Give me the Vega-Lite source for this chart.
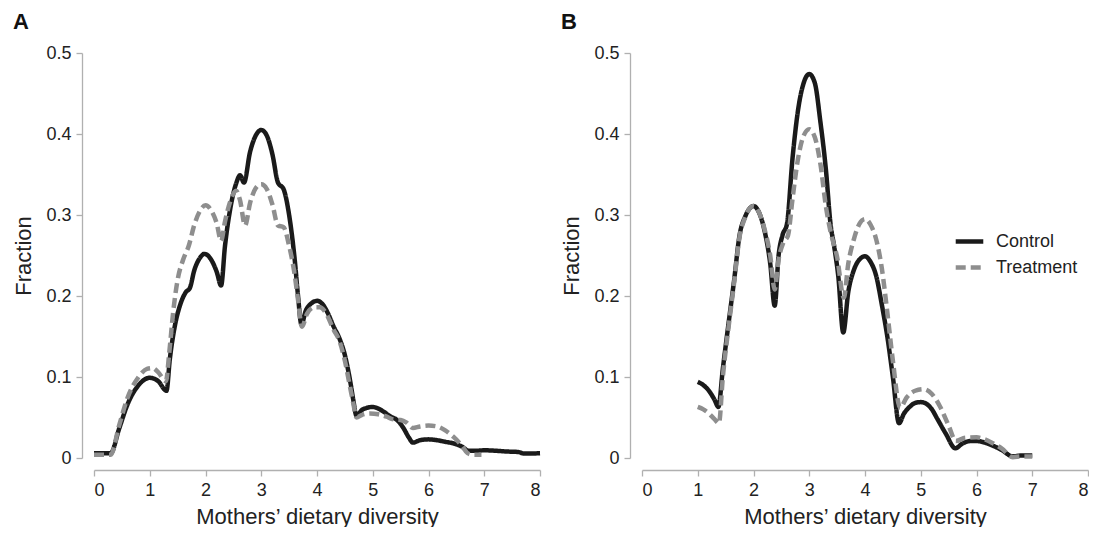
{
  "$schema": "https://vega.github.io/schema/vega-lite/v6.json",
  "padding": {"left": 12, "top": 11, "right": 0, "bottom": 0},
  "background": "white",
  "config": {
    "font": "Liberation Sans",
    "view": {"stroke": null},
    "axis": {
      "grid": false,
      "domainColor": "#b0b0b0",
      "domainWidth": 1.3,
      "tickColor": "#b0b0b0",
      "tickWidth": 1.3,
      "tickSize": 6,
      "labelColor": "#222222",
      "labelFontSize": 18,
      "labelFont": "Liberation Sans",
      "titleFont": "Liberation Sans",
      "titleFontSize": 22,
      "titleFontWeight": "normal",
      "titleColor": "#222222",
      "offset": 12
    },
    "legend": {
      "labelFont": "Liberation Sans",
      "labelFontSize": 18,
      "labelColor": "#222222",
      "padding": 0
    },
    "title": {"font": "Liberation Sans", "fontSize": 22, "fontWeight": "bold", "color": "#111111", "anchor": "start", "frame": "bounds"}
  },
  "data": {
    "values": [
      {"panel":"A","group":"Control","diversity":0,"fraction":0.006},
      {"panel":"A","group":"Control","diversity":0.3,"fraction":0.006},
      {"panel":"A","group":"Control","diversity":0.45,"fraction":0.036},
      {"panel":"A","group":"Control","diversity":0.6,"fraction":0.066},
      {"panel":"A","group":"Control","diversity":0.8,"fraction":0.09},
      {"panel":"A","group":"Control","diversity":1.0,"fraction":0.099},
      {"panel":"A","group":"Control","diversity":1.15,"fraction":0.095},
      {"panel":"A","group":"Control","diversity":1.3,"fraction":0.083},
      {"panel":"A","group":"Control","diversity":1.36,"fraction":0.122},
      {"panel":"A","group":"Control","diversity":1.45,"fraction":0.163},
      {"panel":"A","group":"Control","diversity":1.55,"fraction":0.19},
      {"panel":"A","group":"Control","diversity":1.65,"fraction":0.205},
      {"panel":"A","group":"Control","diversity":1.72,"fraction":0.21},
      {"panel":"A","group":"Control","diversity":1.8,"fraction":0.232},
      {"panel":"A","group":"Control","diversity":1.9,"fraction":0.247},
      {"panel":"A","group":"Control","diversity":1.98,"fraction":0.252},
      {"panel":"A","group":"Control","diversity":2.1,"fraction":0.245},
      {"panel":"A","group":"Control","diversity":2.2,"fraction":0.23},
      {"panel":"A","group":"Control","diversity":2.28,"fraction":0.213},
      {"panel":"A","group":"Control","diversity":2.35,"fraction":0.262},
      {"panel":"A","group":"Control","diversity":2.45,"fraction":0.31},
      {"panel":"A","group":"Control","diversity":2.55,"fraction":0.339},
      {"panel":"A","group":"Control","diversity":2.62,"fraction":0.349},
      {"panel":"A","group":"Control","diversity":2.69,"fraction":0.34},
      {"panel":"A","group":"Control","diversity":2.8,"fraction":0.378},
      {"panel":"A","group":"Control","diversity":2.9,"fraction":0.398},
      {"panel":"A","group":"Control","diversity":3.0,"fraction":0.405},
      {"panel":"A","group":"Control","diversity":3.1,"fraction":0.398},
      {"panel":"A","group":"Control","diversity":3.2,"fraction":0.375},
      {"panel":"A","group":"Control","diversity":3.3,"fraction":0.34},
      {"panel":"A","group":"Control","diversity":3.4,"fraction":0.332},
      {"panel":"A","group":"Control","diversity":3.5,"fraction":0.3},
      {"panel":"A","group":"Control","diversity":3.6,"fraction":0.245},
      {"panel":"A","group":"Control","diversity":3.66,"fraction":0.2},
      {"panel":"A","group":"Control","diversity":3.72,"fraction":0.165},
      {"panel":"A","group":"Control","diversity":3.8,"fraction":0.182},
      {"panel":"A","group":"Control","diversity":3.9,"fraction":0.191},
      {"panel":"A","group":"Control","diversity":4.0,"fraction":0.194},
      {"panel":"A","group":"Control","diversity":4.1,"fraction":0.19},
      {"panel":"A","group":"Control","diversity":4.2,"fraction":0.178},
      {"panel":"A","group":"Control","diversity":4.3,"fraction":0.162},
      {"panel":"A","group":"Control","diversity":4.4,"fraction":0.148},
      {"panel":"A","group":"Control","diversity":4.5,"fraction":0.127},
      {"panel":"A","group":"Control","diversity":4.6,"fraction":0.093},
      {"panel":"A","group":"Control","diversity":4.65,"fraction":0.072},
      {"panel":"A","group":"Control","diversity":4.71,"fraction":0.052},
      {"panel":"A","group":"Control","diversity":4.8,"fraction":0.059},
      {"panel":"A","group":"Control","diversity":4.9,"fraction":0.062},
      {"panel":"A","group":"Control","diversity":5.0,"fraction":0.063},
      {"panel":"A","group":"Control","diversity":5.1,"fraction":0.061},
      {"panel":"A","group":"Control","diversity":5.2,"fraction":0.057},
      {"panel":"A","group":"Control","diversity":5.3,"fraction":0.052},
      {"panel":"A","group":"Control","diversity":5.45,"fraction":0.046},
      {"panel":"A","group":"Control","diversity":5.55,"fraction":0.037},
      {"panel":"A","group":"Control","diversity":5.65,"fraction":0.025},
      {"panel":"A","group":"Control","diversity":5.72,"fraction":0.019},
      {"panel":"A","group":"Control","diversity":5.85,"fraction":0.022},
      {"panel":"A","group":"Control","diversity":6.0,"fraction":0.023},
      {"panel":"A","group":"Control","diversity":6.15,"fraction":0.022},
      {"panel":"A","group":"Control","diversity":6.3,"fraction":0.02},
      {"panel":"A","group":"Control","diversity":6.45,"fraction":0.018},
      {"panel":"A","group":"Control","diversity":6.6,"fraction":0.014},
      {"panel":"A","group":"Control","diversity":6.72,"fraction":0.009},
      {"panel":"A","group":"Control","diversity":6.85,"fraction":0.009},
      {"panel":"A","group":"Control","diversity":7.0,"fraction":0.0095},
      {"panel":"A","group":"Control","diversity":7.2,"fraction":0.009},
      {"panel":"A","group":"Control","diversity":7.4,"fraction":0.008},
      {"panel":"A","group":"Control","diversity":7.6,"fraction":0.0075},
      {"panel":"A","group":"Control","diversity":7.72,"fraction":0.0055},
      {"panel":"A","group":"Control","diversity":7.85,"fraction":0.0055},
      {"panel":"A","group":"Control","diversity":8.0,"fraction":0.006},

      {"panel":"A","group":"Treatment","diversity":0,"fraction":0.004},
      {"panel":"A","group":"Treatment","diversity":0.3,"fraction":0.004},
      {"panel":"A","group":"Treatment","diversity":0.45,"fraction":0.04},
      {"panel":"A","group":"Treatment","diversity":0.6,"fraction":0.074},
      {"panel":"A","group":"Treatment","diversity":0.8,"fraction":0.1},
      {"panel":"A","group":"Treatment","diversity":0.95,"fraction":0.11},
      {"panel":"A","group":"Treatment","diversity":1.05,"fraction":0.111},
      {"panel":"A","group":"Treatment","diversity":1.15,"fraction":0.106},
      {"panel":"A","group":"Treatment","diversity":1.29,"fraction":0.095},
      {"panel":"A","group":"Treatment","diversity":1.35,"fraction":0.13},
      {"panel":"A","group":"Treatment","diversity":1.42,"fraction":0.18},
      {"panel":"A","group":"Treatment","diversity":1.5,"fraction":0.22},
      {"panel":"A","group":"Treatment","diversity":1.6,"fraction":0.245},
      {"panel":"A","group":"Treatment","diversity":1.7,"fraction":0.262},
      {"panel":"A","group":"Treatment","diversity":1.8,"fraction":0.288},
      {"panel":"A","group":"Treatment","diversity":1.9,"fraction":0.305},
      {"panel":"A","group":"Treatment","diversity":2.0,"fraction":0.312},
      {"panel":"A","group":"Treatment","diversity":2.1,"fraction":0.306},
      {"panel":"A","group":"Treatment","diversity":2.2,"fraction":0.29},
      {"panel":"A","group":"Treatment","diversity":2.28,"fraction":0.268},
      {"panel":"A","group":"Treatment","diversity":2.35,"fraction":0.292},
      {"panel":"A","group":"Treatment","diversity":2.45,"fraction":0.318},
      {"panel":"A","group":"Treatment","diversity":2.55,"fraction":0.33},
      {"panel":"A","group":"Treatment","diversity":2.62,"fraction":0.318},
      {"panel":"A","group":"Treatment","diversity":2.71,"fraction":0.287},
      {"panel":"A","group":"Treatment","diversity":2.8,"fraction":0.315},
      {"panel":"A","group":"Treatment","diversity":2.9,"fraction":0.333},
      {"panel":"A","group":"Treatment","diversity":3.0,"fraction":0.338},
      {"panel":"A","group":"Treatment","diversity":3.1,"fraction":0.332},
      {"panel":"A","group":"Treatment","diversity":3.2,"fraction":0.313},
      {"panel":"A","group":"Treatment","diversity":3.3,"fraction":0.287},
      {"panel":"A","group":"Treatment","diversity":3.4,"fraction":0.285},
      {"panel":"A","group":"Treatment","diversity":3.5,"fraction":0.262},
      {"panel":"A","group":"Treatment","diversity":3.6,"fraction":0.226},
      {"panel":"A","group":"Treatment","diversity":3.66,"fraction":0.195},
      {"panel":"A","group":"Treatment","diversity":3.73,"fraction":0.162},
      {"panel":"A","group":"Treatment","diversity":3.82,"fraction":0.178},
      {"panel":"A","group":"Treatment","diversity":3.95,"fraction":0.186},
      {"panel":"A","group":"Treatment","diversity":4.05,"fraction":0.186},
      {"panel":"A","group":"Treatment","diversity":4.15,"fraction":0.18},
      {"panel":"A","group":"Treatment","diversity":4.3,"fraction":0.158},
      {"panel":"A","group":"Treatment","diversity":4.4,"fraction":0.145},
      {"panel":"A","group":"Treatment","diversity":4.5,"fraction":0.12},
      {"panel":"A","group":"Treatment","diversity":4.6,"fraction":0.085},
      {"panel":"A","group":"Treatment","diversity":4.65,"fraction":0.068},
      {"panel":"A","group":"Treatment","diversity":4.71,"fraction":0.05},
      {"panel":"A","group":"Treatment","diversity":4.8,"fraction":0.053},
      {"panel":"A","group":"Treatment","diversity":4.95,"fraction":0.055},
      {"panel":"A","group":"Treatment","diversity":5.1,"fraction":0.054},
      {"panel":"A","group":"Treatment","diversity":5.25,"fraction":0.051},
      {"panel":"A","group":"Treatment","diversity":5.35,"fraction":0.048},
      {"panel":"A","group":"Treatment","diversity":5.5,"fraction":0.047},
      {"panel":"A","group":"Treatment","diversity":5.6,"fraction":0.044},
      {"panel":"A","group":"Treatment","diversity":5.72,"fraction":0.037},
      {"panel":"A","group":"Treatment","diversity":5.85,"fraction":0.039},
      {"panel":"A","group":"Treatment","diversity":6.0,"fraction":0.04},
      {"panel":"A","group":"Treatment","diversity":6.15,"fraction":0.039},
      {"panel":"A","group":"Treatment","diversity":6.3,"fraction":0.034},
      {"panel":"A","group":"Treatment","diversity":6.45,"fraction":0.026},
      {"panel":"A","group":"Treatment","diversity":6.6,"fraction":0.015},
      {"panel":"A","group":"Treatment","diversity":6.7,"fraction":0.006},
      {"panel":"A","group":"Treatment","diversity":6.8,"fraction":0.004},
      {"panel":"A","group":"Treatment","diversity":6.95,"fraction":0.004},

      {"panel":"B","group":"Control","diversity":1.0,"fraction":0.094},
      {"panel":"B","group":"Control","diversity":1.1,"fraction":0.09},
      {"panel":"B","group":"Control","diversity":1.2,"fraction":0.083},
      {"panel":"B","group":"Control","diversity":1.3,"fraction":0.072},
      {"panel":"B","group":"Control","diversity":1.37,"fraction":0.063},
      {"panel":"B","group":"Control","diversity":1.45,"fraction":0.11},
      {"panel":"B","group":"Control","diversity":1.55,"fraction":0.165},
      {"panel":"B","group":"Control","diversity":1.65,"fraction":0.218},
      {"panel":"B","group":"Control","diversity":1.75,"fraction":0.275},
      {"panel":"B","group":"Control","diversity":1.85,"fraction":0.298},
      {"panel":"B","group":"Control","diversity":1.93,"fraction":0.308},
      {"panel":"B","group":"Control","diversity":2.0,"fraction":0.311},
      {"panel":"B","group":"Control","diversity":2.1,"fraction":0.303},
      {"panel":"B","group":"Control","diversity":2.2,"fraction":0.28},
      {"panel":"B","group":"Control","diversity":2.3,"fraction":0.24},
      {"panel":"B","group":"Control","diversity":2.38,"fraction":0.188},
      {"panel":"B","group":"Control","diversity":2.45,"fraction":0.25},
      {"panel":"B","group":"Control","diversity":2.52,"fraction":0.275},
      {"panel":"B","group":"Control","diversity":2.6,"fraction":0.289},
      {"panel":"B","group":"Control","diversity":2.7,"fraction":0.37},
      {"panel":"B","group":"Control","diversity":2.8,"fraction":0.43},
      {"panel":"B","group":"Control","diversity":2.9,"fraction":0.463},
      {"panel":"B","group":"Control","diversity":3.0,"fraction":0.474},
      {"panel":"B","group":"Control","diversity":3.1,"fraction":0.463},
      {"panel":"B","group":"Control","diversity":3.2,"fraction":0.415},
      {"panel":"B","group":"Control","diversity":3.3,"fraction":0.355},
      {"panel":"B","group":"Control","diversity":3.38,"fraction":0.29},
      {"panel":"B","group":"Control","diversity":3.45,"fraction":0.26},
      {"panel":"B","group":"Control","diversity":3.52,"fraction":0.225},
      {"panel":"B","group":"Control","diversity":3.61,"fraction":0.155},
      {"panel":"B","group":"Control","diversity":3.7,"fraction":0.205},
      {"panel":"B","group":"Control","diversity":3.8,"fraction":0.232},
      {"panel":"B","group":"Control","diversity":3.9,"fraction":0.245},
      {"panel":"B","group":"Control","diversity":4.0,"fraction":0.249},
      {"panel":"B","group":"Control","diversity":4.1,"fraction":0.242},
      {"panel":"B","group":"Control","diversity":4.2,"fraction":0.225},
      {"panel":"B","group":"Control","diversity":4.3,"fraction":0.19},
      {"panel":"B","group":"Control","diversity":4.4,"fraction":0.15},
      {"panel":"B","group":"Control","diversity":4.5,"fraction":0.1},
      {"panel":"B","group":"Control","diversity":4.61,"fraction":0.043},
      {"panel":"B","group":"Control","diversity":4.7,"fraction":0.055},
      {"panel":"B","group":"Control","diversity":4.8,"fraction":0.063},
      {"panel":"B","group":"Control","diversity":4.9,"fraction":0.068},
      {"panel":"B","group":"Control","diversity":5.0,"fraction":0.069},
      {"panel":"B","group":"Control","diversity":5.1,"fraction":0.067},
      {"panel":"B","group":"Control","diversity":5.2,"fraction":0.06},
      {"panel":"B","group":"Control","diversity":5.3,"fraction":0.048},
      {"panel":"B","group":"Control","diversity":5.45,"fraction":0.03},
      {"panel":"B","group":"Control","diversity":5.62,"fraction":0.012},
      {"panel":"B","group":"Control","diversity":5.75,"fraction":0.018},
      {"panel":"B","group":"Control","diversity":5.9,"fraction":0.021},
      {"panel":"B","group":"Control","diversity":6.0,"fraction":0.021},
      {"panel":"B","group":"Control","diversity":6.15,"fraction":0.019},
      {"panel":"B","group":"Control","diversity":6.3,"fraction":0.015},
      {"panel":"B","group":"Control","diversity":6.45,"fraction":0.01},
      {"panel":"B","group":"Control","diversity":6.65,"fraction":0.002},
      {"panel":"B","group":"Control","diversity":6.8,"fraction":0.003},
      {"panel":"B","group":"Control","diversity":7.0,"fraction":0.003},

      {"panel":"B","group":"Treatment","diversity":1.0,"fraction":0.063},
      {"panel":"B","group":"Treatment","diversity":1.1,"fraction":0.06},
      {"panel":"B","group":"Treatment","diversity":1.2,"fraction":0.055},
      {"panel":"B","group":"Treatment","diversity":1.3,"fraction":0.048},
      {"panel":"B","group":"Treatment","diversity":1.38,"fraction":0.043},
      {"panel":"B","group":"Treatment","diversity":1.45,"fraction":0.1},
      {"panel":"B","group":"Treatment","diversity":1.55,"fraction":0.16},
      {"panel":"B","group":"Treatment","diversity":1.65,"fraction":0.215},
      {"panel":"B","group":"Treatment","diversity":1.75,"fraction":0.273},
      {"panel":"B","group":"Treatment","diversity":1.85,"fraction":0.297},
      {"panel":"B","group":"Treatment","diversity":1.93,"fraction":0.308},
      {"panel":"B","group":"Treatment","diversity":2.0,"fraction":0.311},
      {"panel":"B","group":"Treatment","diversity":2.1,"fraction":0.303},
      {"panel":"B","group":"Treatment","diversity":2.2,"fraction":0.282},
      {"panel":"B","group":"Treatment","diversity":2.3,"fraction":0.25},
      {"panel":"B","group":"Treatment","diversity":2.38,"fraction":0.208},
      {"panel":"B","group":"Treatment","diversity":2.45,"fraction":0.245},
      {"panel":"B","group":"Treatment","diversity":2.53,"fraction":0.265},
      {"panel":"B","group":"Treatment","diversity":2.62,"fraction":0.275},
      {"panel":"B","group":"Treatment","diversity":2.7,"fraction":0.32},
      {"panel":"B","group":"Treatment","diversity":2.8,"fraction":0.37},
      {"panel":"B","group":"Treatment","diversity":2.9,"fraction":0.398},
      {"panel":"B","group":"Treatment","diversity":3.0,"fraction":0.406},
      {"panel":"B","group":"Treatment","diversity":3.1,"fraction":0.396},
      {"panel":"B","group":"Treatment","diversity":3.2,"fraction":0.363},
      {"panel":"B","group":"Treatment","diversity":3.3,"fraction":0.31},
      {"panel":"B","group":"Treatment","diversity":3.38,"fraction":0.28},
      {"panel":"B","group":"Treatment","diversity":3.5,"fraction":0.248},
      {"panel":"B","group":"Treatment","diversity":3.62,"fraction":0.198},
      {"panel":"B","group":"Treatment","diversity":3.7,"fraction":0.24},
      {"panel":"B","group":"Treatment","diversity":3.8,"fraction":0.27},
      {"panel":"B","group":"Treatment","diversity":3.9,"fraction":0.289},
      {"panel":"B","group":"Treatment","diversity":4.0,"fraction":0.295},
      {"panel":"B","group":"Treatment","diversity":4.1,"fraction":0.288},
      {"panel":"B","group":"Treatment","diversity":4.2,"fraction":0.27},
      {"panel":"B","group":"Treatment","diversity":4.3,"fraction":0.235},
      {"panel":"B","group":"Treatment","diversity":4.4,"fraction":0.18},
      {"panel":"B","group":"Treatment","diversity":4.5,"fraction":0.12},
      {"panel":"B","group":"Treatment","diversity":4.63,"fraction":0.062},
      {"panel":"B","group":"Treatment","diversity":4.75,"fraction":0.075},
      {"panel":"B","group":"Treatment","diversity":4.9,"fraction":0.083},
      {"panel":"B","group":"Treatment","diversity":5.05,"fraction":0.085},
      {"panel":"B","group":"Treatment","diversity":5.2,"fraction":0.079},
      {"panel":"B","group":"Treatment","diversity":5.35,"fraction":0.063},
      {"panel":"B","group":"Treatment","diversity":5.5,"fraction":0.04},
      {"panel":"B","group":"Treatment","diversity":5.63,"fraction":0.021},
      {"panel":"B","group":"Treatment","diversity":5.8,"fraction":0.025},
      {"panel":"B","group":"Treatment","diversity":6.0,"fraction":0.0255},
      {"panel":"B","group":"Treatment","diversity":6.15,"fraction":0.023},
      {"panel":"B","group":"Treatment","diversity":6.3,"fraction":0.018},
      {"panel":"B","group":"Treatment","diversity":6.45,"fraction":0.012},
      {"panel":"B","group":"Treatment","diversity":6.65,"fraction":0.001},
      {"panel":"B","group":"Treatment","diversity":6.8,"fraction":0.002},
      {"panel":"B","group":"Treatment","diversity":7.0,"fraction":0.002}
    ]
  },
  "bounds": "flush",
  "spacing": 102,
  "resolve": {"scale": {"color": "independent", "strokeDash": "independent"}, "legend": {"color": "independent", "strokeDash": "independent"}},
  "hconcat": [
    {
      "title": {"text": "A", "offset": 10},
      "width": 446,
      "height": 405,
      "transform": [{"filter": "datum.panel == 'A'"}],
      "mark": {"type": "line", "interpolate": "monotone", "strokeWidth": 4.5},
      "encoding": {
        "x": {"field": "diversity", "type": "quantitative", "scale": {"domain": [0, 8], "nice": false}, "axis": {"values": [0,1,2,3,4,5,6,7,8], "format": "d", "title": "Mothers’ dietary diversity", "labelPadding": 5, "titlePadding": 7}},
        "y": {"field": "fraction", "type": "quantitative", "scale": {"domain": [0, 0.5], "nice": false}, "axis": {"values": [0,0.1,0.2,0.3,0.4,0.5], "labelExpr": "datum.value == 0 ? '0' : format(datum.value, '.1f')", "title": "Fraction", "labelPadding": 5, "titlePadding": 10}},
        "color": {"field": "group", "type": "nominal", "scale": {"domain": ["Control", "Treatment"], "range": ["#1a1a1a", "#8e8e8e"]}, "legend": null},
        "strokeDash": {"field": "group", "type": "nominal", "scale": {"domain": ["Control", "Treatment"], "range": [[1, 0], [10, 5]]}, "legend": null}
      }
    },
    {
      "title": {"text": "B", "offset": 10},
      "width": 446,
      "height": 405,
      "transform": [{"filter": "datum.panel == 'B'"}],
      "mark": {"type": "line", "interpolate": "monotone", "strokeWidth": 4.5},
      "encoding": {
        "x": {"field": "diversity", "type": "quantitative", "scale": {"domain": [0, 8], "nice": false}, "axis": {"values": [0,1,2,3,4,5,6,7,8], "format": "d", "title": "Mothers’ dietary diversity", "labelPadding": 5, "titlePadding": 7}},
        "y": {"field": "fraction", "type": "quantitative", "scale": {"domain": [0, 0.5], "nice": false}, "axis": {"values": [0,0.1,0.2,0.3,0.4,0.5], "labelExpr": "datum.value == 0 ? '0' : format(datum.value, '.1f')", "title": "Fraction", "labelPadding": 5, "titlePadding": 10}},
        "color": {"field": "group", "type": "nominal", "scale": {"domain": ["Control", "Treatment"], "range": ["#1a1a1a", "#8e8e8e"]}, "legend": {"title": null, "orient": "none", "legendX": 311, "legendY": 172, "symbolType": "stroke", "symbolSize": 760, "symbolStrokeWidth": 4.5, "labelOffset": 10, "rowPadding": 0}},
        "strokeDash": {"field": "group", "type": "nominal", "scale": {"domain": ["Control", "Treatment"], "range": [[1, 0], [10, 5]]}, "legend": {"title": null, "orient": "none", "legendX": 311, "legendY": 172, "symbolType": "stroke", "symbolSize": 760, "symbolStrokeWidth": 4.5, "labelOffset": 10, "rowPadding": 0}}
      }
    }
  ]
}
